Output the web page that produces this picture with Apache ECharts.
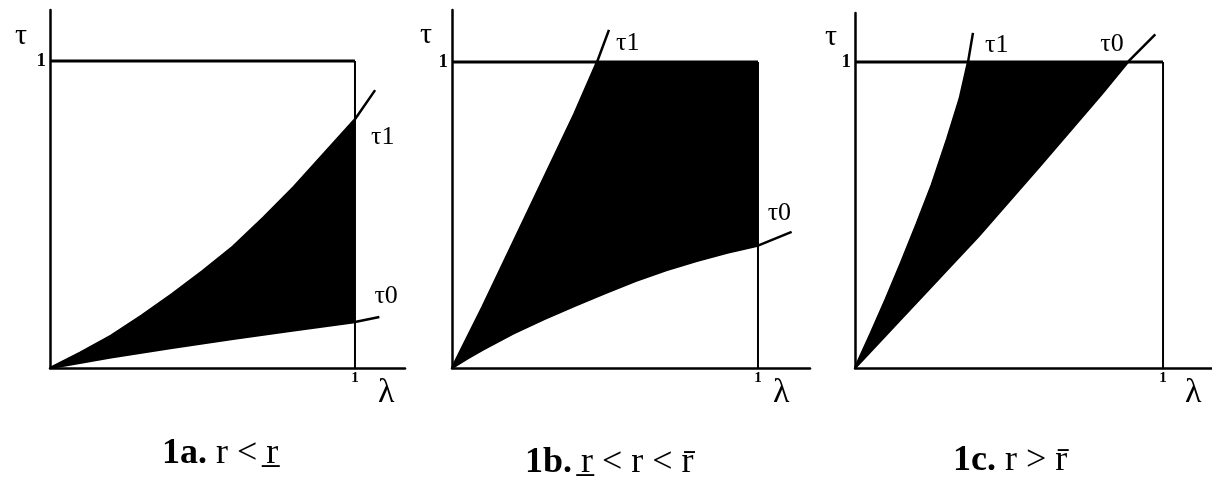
<!DOCTYPE html>
<html>
<head>
<meta charset="utf-8">
<script src="https://cdn.jsdelivr.net/npm/echarts@6/dist/echarts.min.js"></script>
<style>
html, body { margin: 0; padding: 0; background: #fff; }
#main { width: 1212px; height: 485px; }
</style>
</head>
<body>
<div id="main"></div>
<script>
// captions under each panel
var captionNums = ['1a.', '1b.', '1c.'];
var captionConds = [' r < r\u0332', ' r\u0332 < r < r\u0304', ' r > r\u0304'];

// [lambda, tau] points
var tau1A = [[0, 0], [0.1, 0.05], [0.2, 0.105], [0.3, 0.17], [0.4, 0.24], [0.5, 0.315], [0.6, 0.395], [0.7, 0.49], [0.8, 0.59], [0.9, 0.7], [1.0, 0.81], [1.066, 0.905]];
var tau0A = [[0, 0], [0.2, 0.035], [0.4, 0.066], [0.6, 0.095], [0.8, 0.123], [1.0, 0.15], [1.08, 0.166]];

var tau1B = [[0, 0], [0.1, 0.2], [0.2, 0.41], [0.3, 0.62], [0.4, 0.83], [0.474, 1.0], [0.513, 1.105]];
var tau0B = [[0, 0], [0.05, 0.031], [0.1, 0.06], [0.2, 0.113], [0.3, 0.16], [0.4, 0.203], [0.5, 0.245], [0.6, 0.285], [0.7, 0.32], [0.8, 0.35], [0.9, 0.377], [1.0, 0.40], [1.11, 0.445]];

var tau1C = [[0, 0], [0.05, 0.11], [0.1, 0.225], [0.15, 0.345], [0.2, 0.47], [0.25, 0.6], [0.3, 0.75], [0.34, 0.88], [0.367, 1.0], [0.383, 1.095]];
var tau0C = [[0, 0], [0.2, 0.215], [0.4, 0.43], [0.6, 0.66], [0.8, 0.895], [0.886, 1.0], [0.975, 1.09]];

var tau1Lines = [tau1A, tau1B, tau1C];
var tau0Lines = [tau0A, tau0B, tau0C];

// unit box edges
var boxTop = [[0, 1], [1, 1]];
var boxRight = [[1, 1], [1, 0]];

// layout of the three panels (pixels)
var gridLeft = [50, 452, 855];
var gridTop = [10, 10, 13];
var gridW = [355, 358, 357];
var gridH = [358, 358, 355];
var xMax = [1.164, 1.17, 1.159];
var yMax = [1.166, 1.17, 1.16];
var lamGap = [-27, -37, -27];
var tauPad = [23, 20, 18];
var tauGap = [-26, -25.5, -24.5];
var capLeft = [157, 520, 948];
var capTop = [431, 440, 438];
var t1Off = [[-12, 47], [-1, 13], [4, 12]];
var t0Off = [[-13, -21], [-32, -19], [-63, 10]];

var SERIF = 'Liberation Serif, DejaVu Serif, serif';

// cut a curve where it leaves the unit box
function clipToBox(pts) {
  var out = [pts[0]];
  for (var i = 1; i < pts.length; i++) {
    var p = pts[i], q = pts[i - 1];
    if (p[0] <= 1 && p[1] <= 1) { out.push(p); continue; }
    var t = 1;
    if (p[0] > 1) t = Math.min(t, (1 - q[0]) / (p[0] - q[0]));
    if (p[1] > 1) t = Math.min(t, (1 - q[1]) / (p[1] - q[1]));
    out.push([q[0] + t * (p[0] - q[0]), q[1] + t * (p[1] - q[1])]);
    break;
  }
  return out;
}

function regionOf(i) {
  var up = clipToBox(tau1Lines[i]);
  var lo = clipToBox(tau0Lines[i]).reverse();
  var a = up[up.length - 1], b = lo[0];
  if (a[1] >= 0.999 && b[0] >= 0.999) up.push([1, 1]);
  return up.concat(lo);
}

var chart = echarts.init(document.getElementById('main'));

var grids = [], xAxes = [], yAxes = [], series = [], titles = [];
for (var i = 0; i < 3; i++) {
  grids.push({ left: gridLeft[i], top: gridTop[i], width: gridW[i], height: gridH[i], outerBoundsMode: 'none' });
  xAxes.push({
    gridIndex: i, type: 'value', min: 0, max: xMax[i], interval: 1,
    splitLine: { show: false }, axisTick: { show: false },
    axisLine: { lineStyle: { color: '#000', width: 2.5 } },
    axisLabel: { color: '#000', fontSize: 15, margin: 3, fontFamily: SERIF, fontWeight: 'bold',
      formatter: function (v) { return v === 1 ? '1' : ''; } },
    name: '\u03bb', nameLocation: 'end', nameGap: lamGap[i],
    nameTextStyle: { color: '#000', fontSize: 34, fontFamily: SERIF, align: 'left', verticalAlign: 'top', padding: [8, 0, 0, 0] }
  });
  yAxes.push({
    gridIndex: i, type: 'value', min: 0, max: yMax[i], interval: 1,
    splitLine: { show: false }, axisTick: { show: false },
    axisLine: { lineStyle: { color: '#000', width: 2.5 } },
    axisLabel: { color: '#000', fontSize: 19, margin: 4, fontFamily: SERIF, fontWeight: 'bold',
      formatter: function (v) { return v === 1 ? '1' : ''; } },
    name: '\u03c4', nameLocation: 'end', nameGap: tauGap[i],
    nameTextStyle: { color: '#000', fontSize: 30, fontFamily: SERIF, align: 'right', verticalAlign: 'middle', padding: [0, tauPad[i], 0, 0] }
  });

  (function (idx) {
    series.push({
      type: 'custom', xAxisIndex: idx, yAxisIndex: idx, clip: false, z: 1,
      data: [[0, 0]],
      renderItem: function (params, api) {
        var pts = regionOf(idx).map(function (p) { return api.coord(p); });
        return { type: 'polygon', shape: { points: pts }, style: { fill: '#000' } };
      }
    });
  })(i);

  series.push({
    type: 'line', xAxisIndex: i, yAxisIndex: i, data: tau1Lines[i], symbol: 'none', z: 3,
    lineStyle: { color: '#000', width: 2.5 },
    endLabel: { show: true, formatter: '\u03c41', offset: t1Off[i], color: '#000', fontSize: 26, fontFamily: SERIF }
  });
  series.push({
    type: 'line', xAxisIndex: i, yAxisIndex: i, data: tau0Lines[i], symbol: 'none', z: 3,
    lineStyle: { color: '#000', width: 2.5 },
    endLabel: { show: true, formatter: '\u03c40', offset: t0Off[i], color: '#000', fontSize: 26, fontFamily: SERIF }
  });
  series.push({
    type: 'line', xAxisIndex: i, yAxisIndex: i, data: boxTop, symbol: 'none', z: 3,
    lineStyle: { color: '#000', width: 3 }
  });
  series.push({
    type: 'line', xAxisIndex: i, yAxisIndex: i, data: boxRight, symbol: 'none', z: 3,
    lineStyle: { color: '#000', width: 2 }
  });

  titles.push({
    text: '{b|' + captionNums[i] + '}{r|' + captionConds[i] + '}',
    left: capLeft[i], top: capTop[i],
    textStyle: {
      rich: {
        b: { fontSize: 36, fontWeight: 'bold', fontFamily: SERIF, color: '#000' },
        r: { fontSize: 36, fontWeight: 'normal', fontFamily: SERIF, color: '#000' }
      }
    }
  });
}

option = {
  animation: false,
  backgroundColor: '#fff',
  title: titles,
  grid: grids,
  xAxis: xAxes,
  yAxis: yAxes,
  series: series
};
chart.setOption(option);
</script>
</body>
</html>
